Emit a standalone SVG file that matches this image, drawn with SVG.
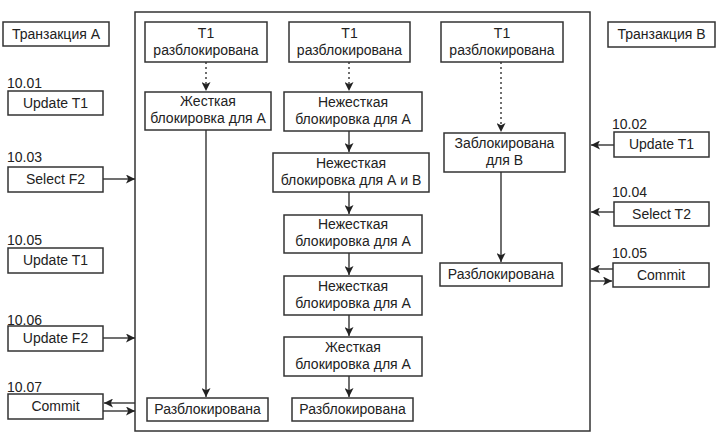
<svg xmlns="http://www.w3.org/2000/svg" width="722" height="437" viewBox="0 0 722 437">
<defs>
<marker id="ah" viewBox="0 0 10 10" refX="10" refY="5" markerWidth="10" markerHeight="9" markerUnits="userSpaceOnUse" orient="auto">
<path d="M0,0 L10,5 L0,10 L2.5,5 Z" fill="#222"/>
</marker>
</defs>
<style>
.b{fill:#fff;stroke:#333;stroke-width:1.5}
.f{fill:none;stroke:#333;stroke-width:1.5}
text{font-family:"Liberation Sans",Arial,sans-serif;font-size:14px;fill:#222}
.c{text-anchor:middle}
.l{stroke:#333;stroke-width:1.4;fill:none;marker-end:url(#ah)}
.d{stroke-dasharray:2,3}
</style>
<rect width="722" height="437" fill="#fff"/>
<g id="frame"><rect class="f" x="135" y="12" width="455" height="419"/></g>

<g id="trA"><rect class="b" x="3" y="22" width="106" height="24"/><text class="c" x="56" y="39">Транзакция А</text></g>
<g id="a1"><text x="7" y="88">10.01</text><rect class="b" x="8" y="91" width="95" height="24"/><text class="c" x="55.5" y="108">Update T1</text></g>
<g id="a3"><text x="7" y="162">10.03</text><rect class="b" x="8" y="167" width="95" height="25"/><text class="c" x="55.5" y="184">Select F2</text></g>
<g id="a5"><text x="7" y="245">10.05</text><rect class="b" x="8" y="248" width="95" height="25"/><text class="c" x="55.5" y="265">Update T1</text></g>
<g id="a6"><text x="7" y="325">10.06</text><rect class="b" x="8" y="326" width="95" height="25"/><text class="c" x="55.5" y="343">Update F2</text></g>
<g id="a7"><text x="7" y="392">10.07</text><rect class="b" x="8" y="394" width="95" height="25"/><text class="c" x="55.5" y="411">Commit</text></g>

<g id="trB"><rect class="b" x="608" y="22" width="107" height="25"/><text class="c" x="661.5" y="39">Транзакция В</text></g>
<g id="b2"><text x="612" y="129">10.02</text><rect class="b" x="614" y="132" width="95" height="25"/><text class="c" x="661.5" y="149">Update T1</text></g>
<g id="b4"><text x="612" y="197">10.04</text><rect class="b" x="614" y="202" width="95" height="24"/><text class="c" x="661.5" y="219">Select T2</text></g>
<g id="b5"><text x="612" y="258">10.05</text><rect class="b" x="613" y="263" width="96" height="24"/><text class="c" x="661" y="280">Commit</text></g>

<g id="c1a"><rect class="b" x="145" y="22" width="122" height="40"/><text class="c" x="206" y="38">T1</text><text class="c" x="206" y="55">разблокирована</text></g>
<g id="c1b"><rect class="b" x="145" y="92" width="126" height="38"/><text class="c" x="208" y="106">Жесткая</text><text class="c" x="208" y="123">блокировка для А</text></g>
<g id="c1c"><rect class="b" x="147" y="398" width="121" height="23"/><text class="c" x="207.5" y="414">Разблокирована</text></g>

<g id="c2a"><rect class="b" x="289" y="22" width="121" height="40"/><text class="c" x="349.5" y="38">T1</text><text class="c" x="349.5" y="55">разблокирована</text></g>
<g id="c2b"><rect class="b" x="284" y="92" width="138" height="39"/><text class="c" x="353" y="107">Нежесткая</text><text class="c" x="353" y="124">блокировка для А</text></g>
<g id="c2c"><rect class="b" x="273" y="153" width="156" height="39"/><text class="c" x="351" y="168">Нежесткая</text><text class="c" x="351" y="185">блокировка для А и В</text></g>
<g id="c2d"><rect class="b" x="284" y="215" width="138" height="38"/><text class="c" x="353" y="229">Нежесткая</text><text class="c" x="353" y="246">блокировка для А</text></g>
<g id="c2e"><rect class="b" x="284" y="276" width="138" height="39"/><text class="c" x="353" y="291">Нежесткая</text><text class="c" x="353" y="308">блокировка для А</text></g>
<g id="c2f"><rect class="b" x="284" y="337" width="138" height="39"/><text class="c" x="353" y="352">Жесткая</text><text class="c" x="353" y="369">блокировка для А</text></g>
<g id="c2g"><rect class="b" x="292" y="398" width="121" height="23"/><text class="c" x="352.5" y="414">Разблокирована</text></g>

<g id="c3a"><rect class="b" x="441" y="22" width="122" height="40"/><text class="c" x="502" y="38">T1</text><text class="c" x="502" y="55">разблокирована</text></g>
<g id="c3b"><rect class="b" x="444" y="133" width="121" height="39"/><text class="c" x="504.5" y="148">Заблокирована</text><text class="c" x="504.5" y="165">для В</text></g>
<g id="c3c"><rect class="b" x="440" y="263" width="122" height="23"/><text class="c" x="501" y="279">Разблокирована</text></g>

<g id="connectors">
<line class="l d" x1="206" y1="62" x2="206" y2="91"/>
<line class="l" x1="206" y1="130" x2="206" y2="397"/>
<line class="l d" x1="349" y1="62" x2="349" y2="91"/>
<line class="l" x1="349" y1="131" x2="349" y2="152"/>
<line class="l" x1="349" y1="192" x2="349" y2="214"/>
<line class="l" x1="349" y1="253" x2="349" y2="275"/>
<line class="l" x1="349" y1="315" x2="349" y2="336"/>
<line class="l" x1="349" y1="376" x2="349" y2="397"/>
<line class="l d" x1="501" y1="62" x2="501" y2="132"/>
<line class="l" x1="501" y1="172" x2="501" y2="262"/>
<line class="l" x1="103" y1="179" x2="135" y2="179"/>
<line class="l" x1="103" y1="338" x2="135" y2="338"/>
<line class="l" x1="135" y1="403" x2="104" y2="403"/>
<line class="l" x1="103" y1="411" x2="135" y2="411"/>
<line class="l" x1="614" y1="145" x2="591" y2="145"/>
<line class="l" x1="614" y1="212" x2="591" y2="212"/>
<line class="l" x1="613" y1="269" x2="591" y2="269"/>
<line class="l" x1="590" y1="281" x2="612" y2="281"/>
</g>
</svg>
